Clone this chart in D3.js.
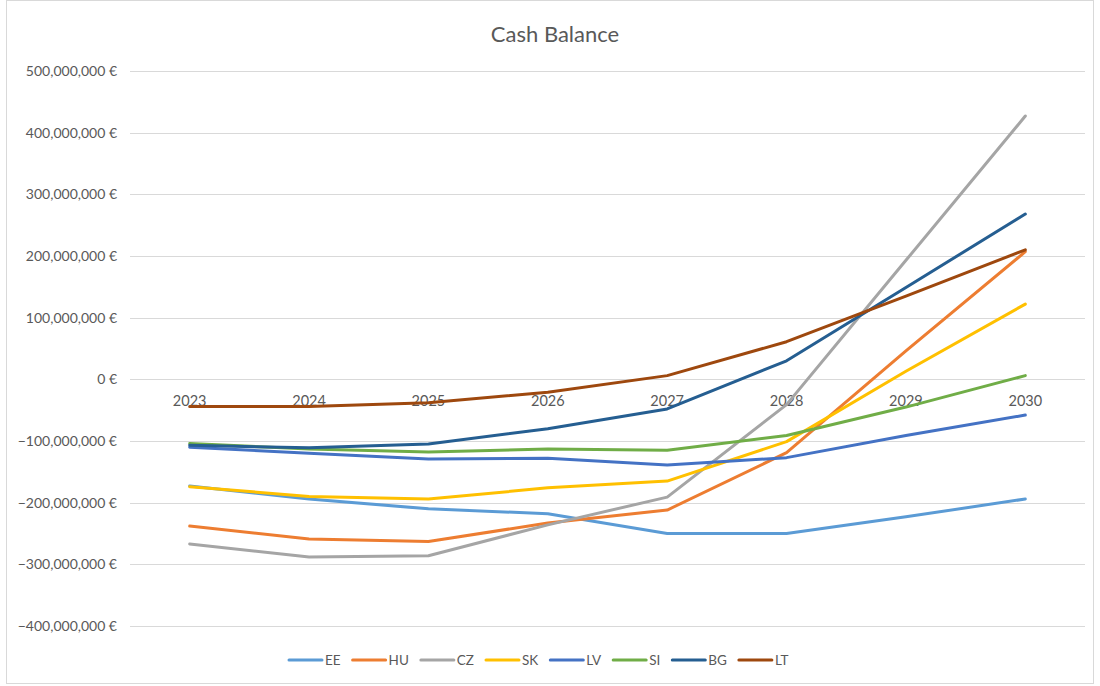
<!DOCTYPE html>
<html>
<head>
<meta charset="utf-8">
<script src="https://cdn.jsdelivr.net/npm/d3@7"></script>
<style>
  body { margin: 0; background: #fff; }
  text { font-family: Lato, "Open Sans", sans-serif; fill: #595959; }
</style>
</head>
<body>
<div id="chart-container"></div>
<script>
const years = ['2023', '2024', '2025', '2026', '2027', '2028', '2029', '2030'];
const yTicks = [-400, -300, -200, -100, 0, 100, 200, 300, 400, 500];

// values in millions of euro
const EE = [-173, -194, -210, -218, -250, -250, -223, -194];
const HU = [-238, -259, -263, -233, -212, -119, 46, 207];
const CZ = [-267, -288, -286, -236, -191, -41, 193, 427];
const SK = [-174, -190, -194, -176, -165, -101, 13, 122];
const LV = [-110, -120, -129, -128, -139, -127, -91, -58];
const SI = [-104, -113, -118, -113, -115, -91, -45, 6];
const BG = [-107, -111, -105, -80, -48, 30, 149, 268];
const LT = [-44, -44, -38, -21, 6, 61, 135, 210];

const seriesNames = ['EE', 'HU', 'CZ', 'SK', 'LV', 'SI', 'BG', 'LT'];
const seriesValues = [EE, HU, CZ, SK, LV, SI, BG, LT];
const colors = ['#5B9BD5', '#ED7D31', '#A5A5A5', '#FFC000', '#4472C4', '#70AD47', '#255E91', '#9E480E'];

const width = 1100, height = 686;
const plot = { left: 130, right: 1085, top: 71, bottom: 626 };

const svg = d3.select('#chart-container')
    .append('svg')
    .attr('width', width)
    .attr('height', height);

svg.append('rect')
    .attr('x', 6.5).attr('y', 0.5)
    .attr('width', 1087).attr('height', 683)
    .attr('fill', '#fff')
    .attr('stroke', '#d9d9d9');

const x = d3.scalePoint()
    .domain(years)
    .range([plot.left, plot.right])
    .padding(0.5);

const y = d3.scaleLinear()
    .domain([-400, 500])
    .range([plot.bottom, plot.top]);

// gridlines
svg.append('g')
    .selectAll('line')
    .data(yTicks)
    .join('line')
    .attr('x1', plot.left)
    .attr('x2', plot.right)
    .attr('y1', (d) => Math.round(y(d)) + 0.5)
    .attr('y2', (d) => Math.round(y(d)) + 0.5)
    .attr('stroke', '#d9d9d9')
    .attr('stroke-width', 1);

// y axis labels
const fmt = d3.format(',');
svg.append('g')
    .selectAll('text')
    .data(yTicks)
    .join('text')
    .attr('x', 117)
    .attr('y', (d) => y(d))
    .attr('dy', '0.35em')
    .attr('text-anchor', 'end')
    .style('font-size', '14px')
    .text((d) => `${fmt(d * 1e6)} €`);

// category labels sit just under the zero line
svg.append('g')
    .selectAll('text')
    .data(years)
    .join('text')
    .attr('x', (d) => x(d))
    .attr('y', y(0) + 27)
    .attr('text-anchor', 'middle')
    .style('font-size', '14.5px')
    .text((d) => d);

const line = d3.line()
    .x((_, i) => x(years[i]))
    .y((d) => y(d));

svg.append('g')
    .selectAll('path')
    .data(seriesValues)
    .join('path')
    .attr('fill', 'none')
    .attr('stroke', (_, i) => colors[i])
    .attr('stroke-width', 3)
    .attr('stroke-linecap', 'round')
    .attr('stroke-linejoin', 'round')
    .attr('d', line);

// title
svg.append('text')
    .attr('x', 555)
    .attr('y', 42)
    .attr('text-anchor', 'middle')
    .style('font-size', '22px')
    .text('Cash Balance');

// legend
const legend = svg.append('g');
let lx = 288;
seriesNames.forEach((name, i) => {
    const g = legend.append('g').attr('transform', `translate(${lx},660)`);
    g.append('line')
        .attr('x1', 1).attr('x2', 34)
        .attr('y1', 0).attr('y2', 0)
        .attr('stroke', colors[i])
        .attr('stroke-width', 3)
        .attr('stroke-linecap', 'round');
    const t = g.append('text')
        .attr('x', 37)
        .attr('y', 0)
        .attr('dy', '0.35em')
        .style('font-size', '13.5px')
        .text(name);
    lx += 37 + t.node().getComputedTextLength() + 11;
});
</script>
</body>
</html>
